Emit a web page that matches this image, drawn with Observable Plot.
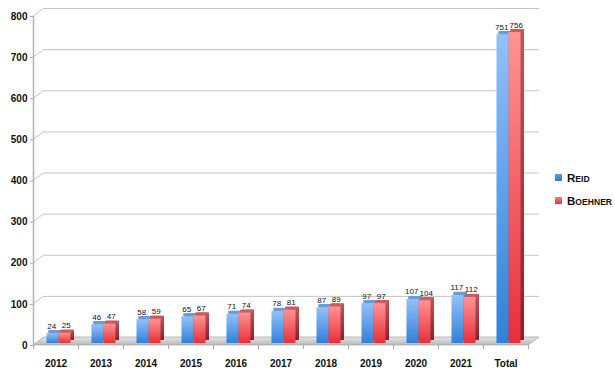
<!DOCTYPE html>
<html><head><meta charset="utf-8">
<script src="https://cdn.jsdelivr.net/npm/d3@7"></script>
<script src="https://cdn.jsdelivr.net/npm/@observablehq/plot@0.6"></script>
<style>
body{margin:0;background:#fff;}
#wrap{position:relative;width:615px;height:371px;overflow:hidden;}
#legend{position:absolute;left:555px;top:171px;font:bold 11.5px "Liberation Sans",Arial,sans-serif;color:#111;}
.item{display:flex;align-items:center;height:13px;margin-bottom:10px;}
.sw{width:7px;height:7px;margin-right:5px;}
.sc{font-size:8.6px;}
</style></head><body><div id="wrap"><div id="legend"></div></div>
<script>
const categories = ["2012","2013","2014","2015","2016","2017","2018","2019","2020","2021","Total"];
const reid = [24,46,58,65,71,78,87,97,107,117,751];
const boehner = [25,47,59,67,74,81,89,97,104,112,756];
const yTicks = [0,100,200,300,400,500,600,700,800];
const seriesNames = ["Reid","Boehner"];

const rows = categories.map((c, i) => ({i, c, reid: reid[i], boehner: boehner[i]}));
const bandIdx = categories.map((c, i) => i + 0.5);
const bounds = d3.range(categories.length + 1);

const W = 0.267;           // bar width in band units
const DX = 3, DY = -2;     // bar offset from the front plane
const DEPTH_X = 3.5, DEPTH_Y = 3;
const WALL_X = 11, WALL_Y = 8;

function defs() {
  const d = d3.create("svg:defs");
  const grad = (id, stops) => {
    const g = d.append("linearGradient").attr("id", id)
      .attr("x1", 0).attr("y1", 0).attr("x2", 0).attr("y2", 1);
    stops.forEach(([o, c]) => g.append("stop").attr("offset", o).attr("stop-color", c));
  };
  grad("gBlue", [[0, "#93c1f8"], [1, "#2f81da"]]);
  grad("gRed", [[0, "#ff9496"], [1, "#e6303a"]]);
  grad("gBlueSide", [[0, "#5f8fcf"], [1, "#1f5aa8"]]);
  grad("gRedSide", [[0, "#c2545a"], [1, "#8e1f26"]]);
  grad("gFloor", [[0, "#e4e4e4"], [1, "#b9b9b9"]]);
  return d.node();
}

function floorAndWall(index, scales) {
  const x = scales && scales.x ? scales.x : d3.scaleLinear([0, 11], [33, 528]);
  const y = scales && scales.y ? scales.y : d3.scaleLinear([0, 800], [345, 16]);
  const g = d3.create("svg:g");
  const x0 = x(0), x1 = x(categories.length), y0 = y(0);
  g.append("path")
    .attr("d", `M${x0},${y0}L${x0 + WALL_X},${y0 - WALL_Y}L${x1 + WALL_X},${y0 - WALL_Y}L${x1},${y0}Z`)
    .attr("fill", "url(#gFloor)").attr("stroke", "#aaa").attr("stroke-width", 0.8);
  for (const t of yTicks) {
    g.append("line").attr("x1", x0).attr("y1", y(t)).attr("x2", x0 + WALL_X).attr("y2", y(t) - WALL_Y)
      .attr("stroke", "#c4c4c4").attr("stroke-width", 1);
  }
  return g.node();
}

function barMarks(key, off, front, side, top) {
  const x1 = d => d.i + 0.5 + (off < 0 ? -W : 0);
  const x2 = d => d.i + 0.5 + (off < 0 ? 0 : W);
  return [
    Plot.rect(rows, {x1, x2, y1: 0, y2: key, dx: DX + DEPTH_X, dy: DY - DEPTH_Y, fill: side}),
    Plot.rect(rows, {x1, x2, y1: key, y2: key, insetTop: -DEPTH_Y, dx: DX + DEPTH_X / 2, dy: DY, fill: top}),
    Plot.rect(rows, {x1, x2, y1: 0, y2: key, dx: DX, dy: DY, fill: front}),
    Plot.text(rows, {x: d => (x1(d) + x2(d)) / 2, y: key, text: key, dx: DX + off * 1.2, dy: DY - DEPTH_Y - 2,
      lineAnchor: "bottom", fontSize: 8, fill: "#111", fontFamily: "Liberation Sans, Arial, sans-serif"})
  ];
}

const chart = Plot.plot({
  width: 615,
  height: 371,
  marginLeft: 33,
  marginRight: 87,
  marginTop: 16,
  marginBottom: 26,
  style: {fontFamily: "Liberation Sans, Arial, sans-serif", background: "#fff", overflow: "visible"},
  x: {domain: [0, categories.length], axis: null},
  y: {domain: [0, 800], axis: null},
  marks: [
    defs,
    Plot.ruleY(yTicks, {dx: WALL_X, dy: -WALL_Y, stroke: "#c4c4c4", strokeWidth: 1}),
    floorAndWall,
    Plot.ruleX([0], {y1: 0, y2: 800, stroke: "#b3b3b3", strokeWidth: 1.5}),
    Plot.axisY(yTicks, {tickSize: 3, tickPadding: 3, stroke: "#aaa", fill: "#111",
      fontWeight: "bold", fontSize: 10, tickFormat: d => d}),
    Plot.axisX(bounds, {tickSize: 4, tickFormat: () => "", stroke: "#aaa", label: null}),
    Plot.axisX(bandIdx, {tickSize: 0, tickPadding: 14, tickFormat: d => categories[Math.floor(d)],
      fill: "#111", fontWeight: "bold", fontSize: 10, label: null}),
    ...barMarks("reid", -1, "url(#gBlue)", "url(#gBlueSide)", "#6a9ad8"),
    ...barMarks("boehner", 1, "url(#gRed)", "url(#gRedSide)", "#cf5a61")
  ]
});

const wrap = document.getElementById("wrap");
wrap.insertBefore(chart, wrap.firstChild);

const legend = d3.select("#legend");
const swatches = ["linear-gradient(#5a9be6,#2f78cf)", "linear-gradient(#ff7a80,#e0343d)"];
seriesNames.forEach((n, k) => {
  const it = legend.append("div").attr("class", "item");
  it.append("div").attr("class", "sw").style("background", swatches[k]);
  const s = it.append("span");
  s.append("span").text(n[0].toUpperCase());
  s.append("span").attr("class", "sc").text(n.slice(1).toUpperCase());
});
</script>
</body></html>
